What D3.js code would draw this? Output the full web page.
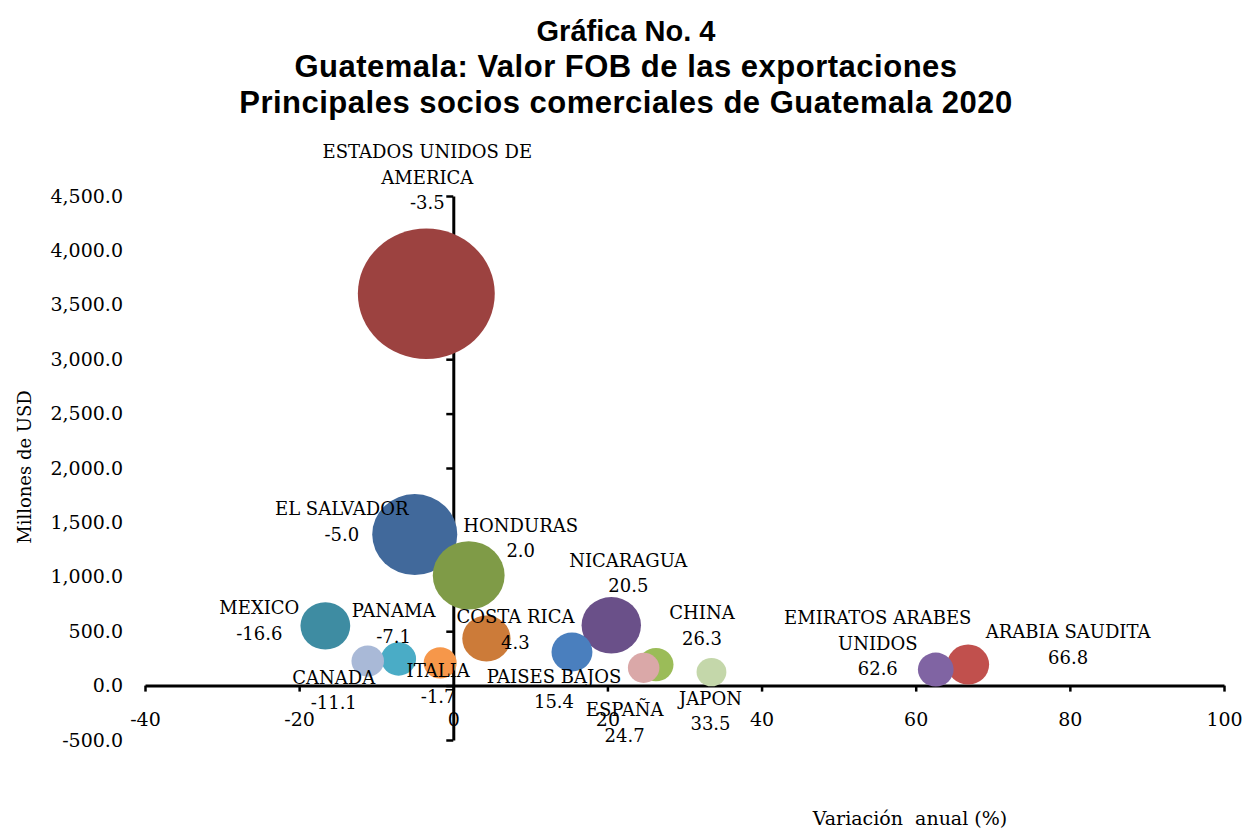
<!DOCTYPE html>
<html>
<head>
<meta charset="utf-8">
<script src="https://cdn.jsdelivr.net/npm/d3@7"></script>
<style>
body { margin: 0; background: #fff; }
svg text { font-family: "DejaVu Serif", serif; fill: #000; }
</style>
</head>
<body>
<svg id="chart" width="1246" height="828"></svg>
<script>

// datos
var paises = [
    "ESTADOS UNIDOS DE\nAMERICA", "EL SALVADOR", "HONDURAS", "MEXICO", "CANADA",
    "PANAMA", "ITALIA", "COSTA RICA", "PAISES BAJOS", "NICARAGUA",
    "ESPAÑA", "CHINA", "JAPON", "EMIRATOS ARABES\nUNIDOS", "ARABIA SAUDITA"
];
// variacion anual (%)
var variacion = [-3.5, -5.0, 2.0, -16.6, -11.1, -7.1, -1.7, 4.3, 15.4, 20.5, 24.7, 26.3, 33.5, 62.6, 66.8];
// millones de USD
var valor = [3601, 1388, 1013, 549, 225, 245, 209, 432, 308, 554, 163, 193, 124, 147, 193];
// tamaño de la burbuja
var tamano = [3601, 1389, 991, 476, 204, 236, 209, 448, 322, 678, 191, 236, 171, 245, 339];
var colores = [
    "#9c4240", "#41699b", "#7f9b47", "#3e8ca2", "#a9b9d7",
    "#4aacc6", "#f6974a", "#cc7b39", "#4a7fbe", "#6a5089",
    "#daa8a8", "#9bbc58", "#c4d7aa", "#8064a3", "#c1504d"
];

var xTicks = [-40, -20, 0, 20, 40, 60, 80, 100];
var yTicks = [-500, 0, 500, 1000, 1500, 2000, 2500, 3000, 3500, 4000, 4500];

var titulo = [
    "Gráfica No. 4",
    "Guatemala: Valor FOB de las exportaciones",
    "Principales socios comerciales de Guatemala 2020"
];

// desplazamiento de cada etiqueta respecto al centro de su burbuja (px)
var etiquetaDx = [1, -73, 52, -66, -34, -5, -2, 29, -18, 17, -19, 46, -1, -58, 100];
var etiquetaDy = [-142, -26, -50, -18, 16, -48, 8, -22, 24, -65, 42, -52, 26, -52, -33];

var loc = d3.formatLocale({decimal: ".", thousands: ",", grouping: [3], currency: ["", ""], minus: "-"});
var fmtY = loc.format(",.1f"),
    fmtV = loc.format(".1f"),
    fmtX = loc.format("d");

var svg = d3.select("#chart");

var x = d3.scaleLinear().domain([-40, 100]).range([145, 1224]);
var y = d3.scaleLinear().domain([-500, 4500]).range([740, 196]);
var r = d3.scaleSqrt().domain([0, d3.max(tamano)]).range([0, 65.2]);

// titulo
svg.append("g").selectAll("text")
    .data(titulo)
    .join("text")
    .attr("x", 626)
    .attr("y", function (d, i) { return 40.5 + i * 36; })
    .attr("text-anchor", "middle")
    .style("font-family", "'Liberation Sans', Arial, sans-serif")
    .style("font-weight", "bold")
    .style("font-size", function (d, i) { return i === 0 ? "29px" : "31px"; })
    .style("letter-spacing", function (d, i) { return i === 0 ? "0px" : "0.5px"; })
    .text(function (d) { return d; });

// eje x
var gx = svg.append("g")
    .attr("transform", "translate(0," + y(0) + ")")
    .call(d3.axisBottom(x).tickValues(xTicks).tickSizeInner(6).tickSizeOuter(0).tickPadding(21).tickFormat(fmtX));

// eje y (linea en x = 0)
var gy = svg.append("g")
    .attr("transform", "translate(" + x(0) + ",0)")
    .call(d3.axisLeft(y).tickValues(yTicks).tickSizeInner(7).tickSizeOuter(0).tickFormat(""));

// etiquetas del eje y a la izquierda
var gyl = svg.append("g")
    .attr("transform", "translate(126,0)")
    .call(d3.axisLeft(y).tickValues(yTicks).tickSize(0).tickPadding(3).tickFormat(fmtY));
gyl.select(".domain").remove();

[gx, gy, gyl].forEach(function (g) {
    g.attr("font-family", null).attr("font-size", null);
    g.select(".domain").attr("stroke", "#000").attr("stroke-width", 3);
    g.selectAll(".tick line").attr("stroke", "#000").attr("stroke-width", 2.5);
    g.selectAll(".tick text").style("font-size", "19px").attr("fill", "#000");
});

// burbujas
var datos = paises.map(function (p, i) {
    return {nombre: p, v: variacion[i], val: valor[i], t: tamano[i], color: colores[i], dx: etiquetaDx[i], dy: etiquetaDy[i]};
});
var orden = datos.slice().sort(function (a, b) { return b.t - a.t; });

svg.append("g").selectAll("ellipse")
    .data(orden)
    .join("ellipse")
    .attr("cx", function (d) { return x(d.v); })
    .attr("cy", function (d) { return y(d.val); })
    .attr("rx", function (d) { return r(d.t) * 1.05; })
    .attr("ry", function (d) { return r(d.t); })
    .attr("fill", function (d) { return d.color; });

// etiquetas de las burbujas
svg.append("g").selectAll("text")
    .data(datos)
    .join("text")
    .attr("text-anchor", "middle")
    .style("font-size", "18px")
    .attr("transform", function (d) { return "translate(" + (x(d.v) + d.dx) + "," + (y(d.val) + d.dy) + ")"; })
    .each(function (d) {
        var lineas = d.nombre.split("\n").concat([fmtV(d.v)]);
        d3.select(this).selectAll("tspan")
            .data(lineas)
            .join("tspan")
            .attr("x", 0)
            .attr("y", function (l, i) { return i * 25.5; })
            .attr("dy", "0.36em")
            .text(function (l) { return l; });
    });

// titulos de ejes
svg.append("text")
    .attr("transform", "translate(31,467) rotate(-90)")
    .attr("text-anchor", "middle")
    .style("font-size", "18px")
    .text("Millones de USD");

svg.append("text")
    .attr("x", 910)
    .attr("y", 825)
    .attr("text-anchor", "middle")
    .style("font-size", "19px")
    .style("white-space", "pre")
    .text("Variación  anual (%)");

</script>
</body>
</html>
